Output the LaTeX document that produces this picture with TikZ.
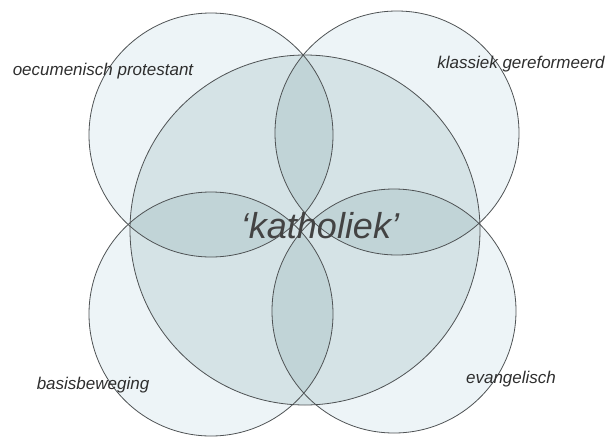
\documentclass[tikz,border=0pt]{standalone}
\usepackage{fontspec}
\setmainfont{Liberation Sans}
\usepackage{xcolor}
\definecolor{Ring}{HTML}{4E5254}
\definecolor{PaleBlue}{HTML}{EDF4F7}
\definecolor{MidBlue}{HTML}{D5E3E6}
\definecolor{DeepBlue}{HTML}{C1D4D7}
\definecolor{Ink}{HTML}{2E2E2E}
\tikzset{
 ring/.style={draw=Ring, line width=0.8pt},
 streamtext/.style={anchor=base, text=Ink, inner sep=0pt, font=\fontsize{17}{20}\selectfont\itshape},
 kathtext/.style={anchor=base, text=Ink!90, inner sep=0pt, font=\fontsize{36}{40}\selectfont\itshape}
}

\begin{document}
\begin{tikzpicture}[x=1pt,y=-1pt]
\useasboundingbox (0,0) rectangle (608,437);
\coordinate (tl) at (211,135);
\coordinate (tr) at (397,133);
\coordinate (bl) at (211,314);
\coordinate (br) at (394,311);
\coordinate (mid) at (305,230);
\foreach \c in {tl,tr,bl,br}
 \fill[PaleBlue] (\c) circle (122pt);
\fill[MidBlue] (mid) circle (175pt);
\foreach \a/\b in {tl/tr,tl/bl,tr/br,bl/br}{
 \begin{scope}
 \clip (mid) circle (175pt);
 \clip (\a) circle (122pt);
 \fill[DeepBlue] (\b) circle (122pt);
 \end{scope}
}
\foreach \c in {tl,tr,bl,br}
 \draw[ring] (\c) circle (122pt);
\draw[ring] (mid) circle (175pt);
\node[streamtext] (oecu) at (103,75) {oecumenisch protestant};
\node[streamtext] (klas) at (521,68) {klassiek gereformeerd};
\node[streamtext] (basis) at (93,389) {basisbeweging};
\node[streamtext] (evang) at (511,383) {evangelisch};
\node[kathtext] (kath) at (320,238) {‘katholiek’};
\end{tikzpicture}
\end{document}
